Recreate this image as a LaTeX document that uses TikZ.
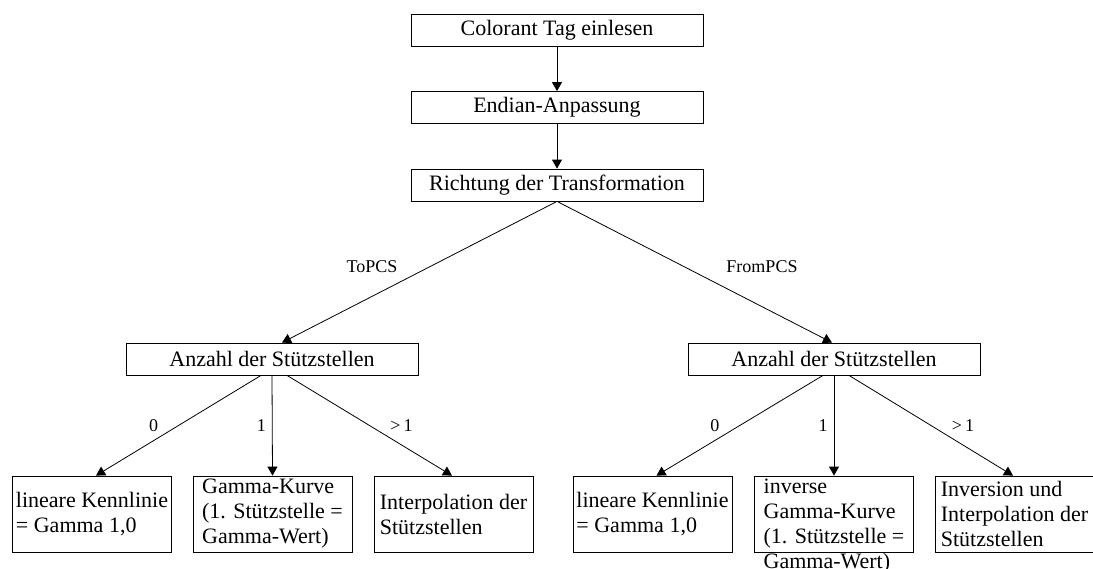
\documentclass[tikz,border=0pt]{standalone}
\usepackage{fontspec}
\setmainfont{Liberation Serif}
\usetikzlibrary{arrows.meta}

\begin{document}
\begin{tikzpicture}[x=0.5pt,y=-0.5pt,
  >={Triangle[length=4.5pt,width=5pt]},
  stepbox/.style={draw, minimum width=146pt, minimum height=16pt, inner sep=0pt,
    font=\fontsize{11}{12.5}\selectfont},
  leafbox/.style={draw, minimum width=79.5pt, minimum height=38pt, inner sep=0pt,
    align=left, font=\fontsize{11}{12.5}\selectfont},
  caselabel/.style={inner sep=0pt, font=\fontsize{9}{10}\selectfont}]

\useasboundingbox (0,0) rectangle (1093,568);

\node [stepbox] (tag) at (557,30) {Colorant Tag einlesen};
\node [stepbox] (endian) at (557,107.5) {Endian-Anpassung};
\node [stepbox] (richtung) at (557,185) {Richtung der Transformation};

\node [stepbox] (anzTo) at (272,359) {Anzahl der Stützstellen};
\node [stepbox] (anzFrom) at (834,359) {Anzahl der Stützstellen};

\node [leafbox] (nullTo) at (92,514) {lineare Kennlinie\\= Gamma 1,0};
\node [leafbox] (einsTo) at (272.5,514) {Gamma-Kurve\\(1. Stützstelle =\\Gamma-Wert)};
\node [leafbox] (mehrTo) at (453.5,514) {Interpolation der\\Stützstellen};

\node [leafbox] (nullFrom) at (652.5,514) {lineare Kennlinie\\= Gamma 1,0};
\node [leafbox] (einsFrom) at (834,514) {\vbox to 35pt{\hbox{inverse}\hbox{Gamma-Kurve}%
  \hbox{(1. Stützstelle =}\hbox{Gamma-Wert)}\vss}};
\node [leafbox] (mehrFrom) at (1014.5,514) {Inversion und\\Interpolation der\\Stützstellen};

\draw[->] (tag) -- (endian);
\draw[->] (endian) -- (richtung);

\draw[->] (richtung.south) -- node[caselabel, xshift=-23.75pt, yshift=2.5pt]{ToPCS} ([xshift=5pt]anzTo.north);
\draw[->] (richtung.south) -- node[caselabel, xshift=33.75pt, yshift=2.5pt]{FromPCS} ([xshift=-1pt]anzFrom.north);

\foreach \s in {To,From} {
  \draw[->] ([xshift=-5.5pt]anz\s.south) -- node[caselabel, xshift=-12.5pt]{0} ([xshift=2pt]null\s.north);
  \draw[->] (anz\s.south) -- node[caselabel, xshift=-5.5pt]{1} (eins\s.north);
  \draw[->] ([xshift=7.5pt]anz\s.south) -- node[caselabel, xshift=16pt]{>\,1} ([xshift=-0.75pt]mehr\s.north);
}

\end{tikzpicture}
\end{document}
